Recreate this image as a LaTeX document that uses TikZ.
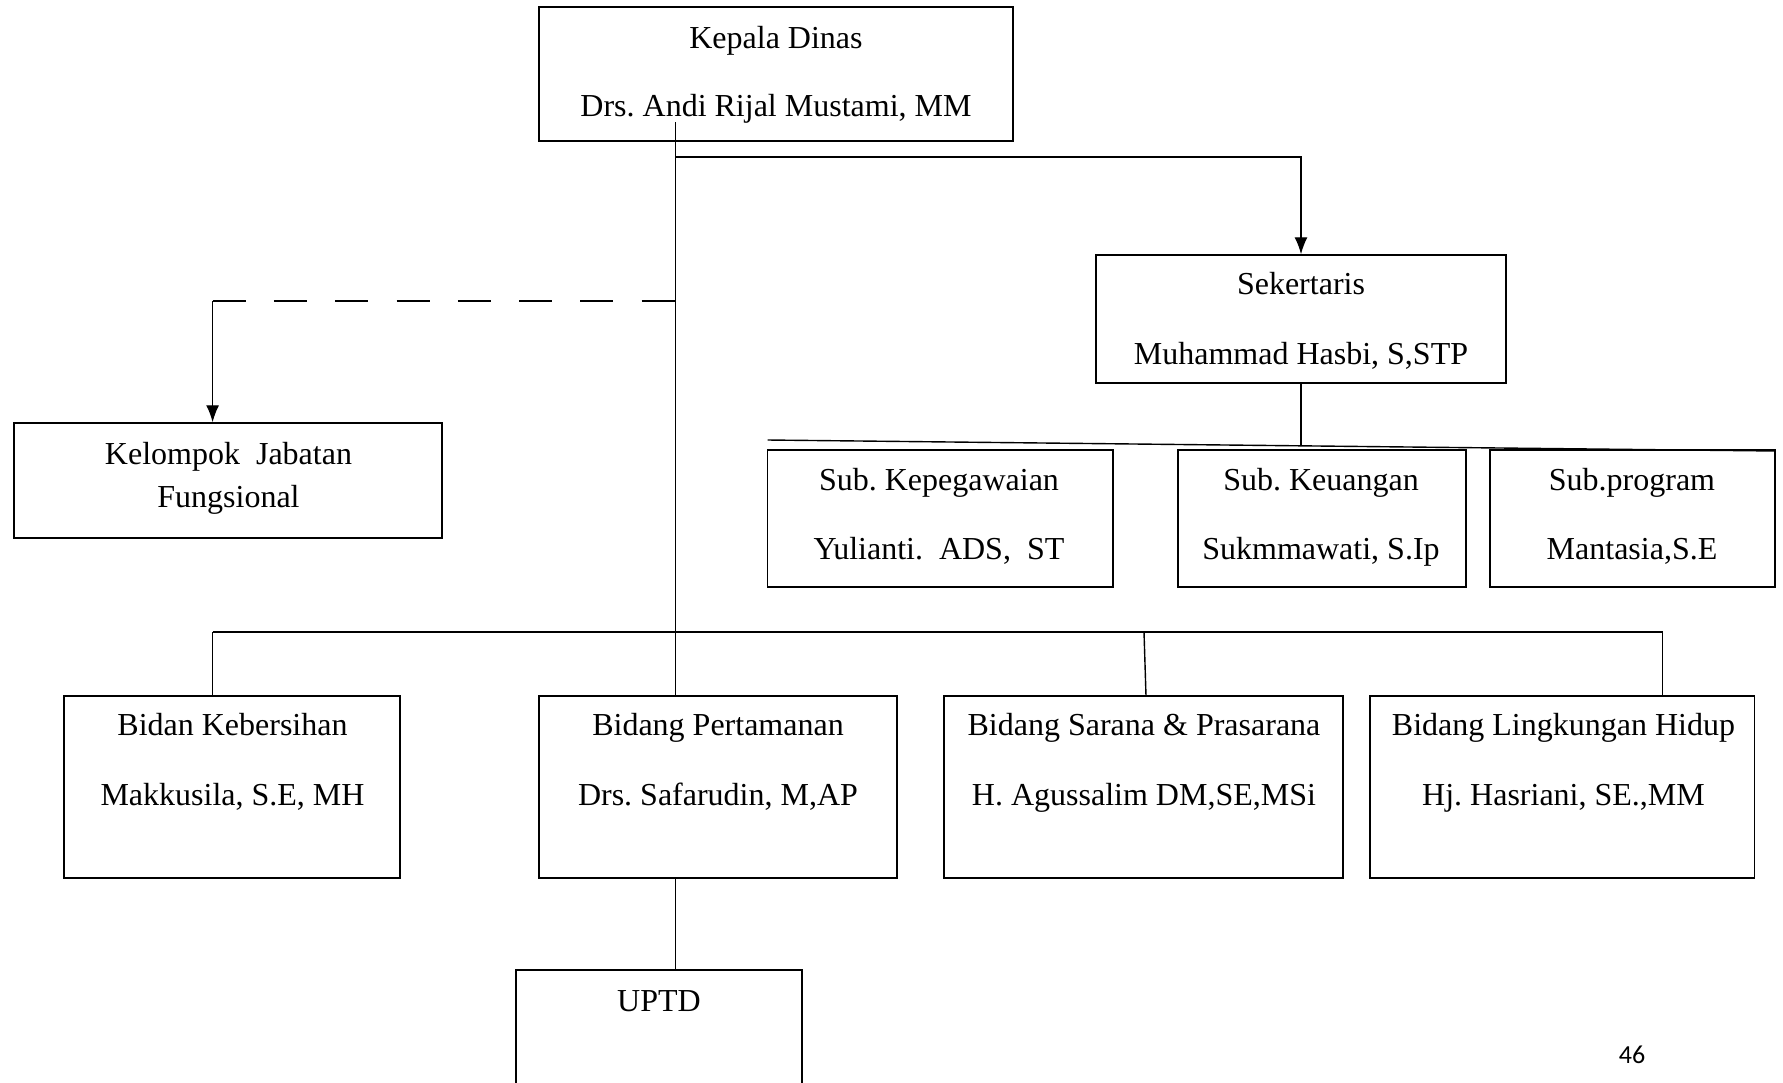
\documentclass[tikz,border=0pt]{standalone}
\usepackage{fontspec}
\setmainfont{Liberation Serif}
\newfontfamily\pagefont{Carlito}
\usetikzlibrary{arrows.meta}
\begin{document}
\frenchspacing
\begin{tikzpicture}[x=1pt,y=-1pt,
  box/.style={draw, line width=1.5pt, rectangle, inner sep=0pt},
  lbl/.style={font=\fontsize{32}{38}\selectfont, inner sep=0pt, anchor=base},
  conn/.style={line width=1.4pt},
  arr/.style={conn, -{Latex[length=17pt,width=13pt]}}]
\useasboundingbox (0,0) rectangle (1783,1082);
\clip (0,0) rectangle (1783,1082);
\fill[white] (0,0) rectangle (1783,1082);

% boxes
\node[box, minimum width=474pt, minimum height=134pt] (kepala) at (776,74) {};
\node[box, minimum width=410pt, minimum height=128pt] (sek) at (1301,319) {};
\node[box, minimum width=428pt, minimum height=115pt] (kel) at (228,480.5) {};
\node[box, minimum width=345.5pt, minimum height=137pt] (subkep) at (940,518.5) {};
\node[box, minimum width=288pt, minimum height=137pt] (subkeu) at (1322,518.5) {};
\node[box, minimum width=285pt, minimum height=137pt] (subprog) at (1632.5,518.5) {};
\node[box, minimum width=336pt, minimum height=182pt] (bkeb) at (232,787) {};
\node[box, minimum width=358pt, minimum height=182pt] (btam) at (718,787) {};
\node[box, minimum width=399pt, minimum height=182pt] (bsar) at (1143.5,787) {};
\node[box, minimum width=384.5pt, minimum height=182pt] (bling) at (1562,787) {};
\node[box, minimum width=286pt, minimum height=140pt] (uptd) at (659,1040) {};

% texts
\node[lbl] (t1a) at (776,48) {Kepala Dinas};
\node[lbl] (t1b) at (776,116) {Drs. Andi Rijal Mustami, MM};
\node[lbl] (t2a) at (1301,294) {Sekertaris};
\node[lbl] (t2b) at (1301,364) {Muhammad Hasbi, S,STP};
\node[lbl] (t3a) at (228.5,464) {Kelompok~~Jabatan};
\node[lbl] (t3b) at (228.5,507) {Fungsional};
\node[lbl] (t4a) at (939,490) {Sub. Kepegawaian};
\node[lbl] (t4b) at (939,559) {Yulianti.~~ADS,~~ST};
\node[lbl] (t5a) at (1321,490) {Sub. Keuangan};
\node[lbl] (t5b) at (1321,559) {Sukmmawati, S.Ip};
\node[lbl] (t6a) at (1632,490) {Sub.program};
\node[lbl] (t6b) at (1632,559) {Mantasia,S.E};
\node[lbl] (t7a) at (232.5,735.5) {Bidan Kebersihan};
\node[lbl] (t7b) at (232.5,805) {Makkusila, S.E, MH};
\node[lbl] (t8a) at (718,735.5) {Bidang Pertamanan};
\node[lbl] (t8b) at (718,805) {Drs. Safarudin, M,AP};
\node[lbl] (t9a) at (1144,735.5) {Bidang Sarana \& Prasarana};
\node[lbl] (t9b) at (1144,805) {H. Agussalim DM,SE,MSi};
\node[lbl] (t10a) at (1563.5,735.5) {Bidang Lingkungan Hidup};
\node[lbl] (t10b) at (1563.5,805) {Hj. Hasriani, SE.,MM};
\node[lbl] (t11) at (659,1011) {UPTD};
\node[font=\pagefont\fontsize{26}{30}\selectfont, inner sep=0pt, anchor=base] (pg) at (1632,1063) {46};

% coordinates
\coordinate (k0) at (675.5,122);
\coordinate (j1) at (675.5,157);
\coordinate (j2) at (675.5,301);
\coordinate (c1) at (212.6,301);
\coordinate (s1) at (1301,446);
\coordinate (sl) at (767.5,440);
\coordinate (sr) at (1775,451);
\coordinate (b1) at (212.6,632);
\coordinate (b2) at (1144,632);
\coordinate (b3) at (1662.5,632);
\coordinate (b3b) at (1146,696);

% connectors
\draw[conn] (k0) -- (k0 |- btam.north);
\draw[arr] (j1) -| (sek.north);
\draw[conn, dash pattern=on 33pt off 28.3pt] (c1) -- (j2);
\draw[arr] (c1) -- (c1 |- kel.north);
\draw[conn] (sek.south) -- (s1);
\draw[conn] (sl) -- (sr);
\draw[line width=1.8pt] (b1) -- (b3);
\draw[conn] (b1) -- (b1 |- bkeb.north);
\draw[conn] (b2) -- (b3b);
\draw[conn] (b3) -- (b3 |- bling.north);
\draw[conn] (btam.south -| k0) -- (uptd.north -| k0);
\end{tikzpicture}
\end{document}
